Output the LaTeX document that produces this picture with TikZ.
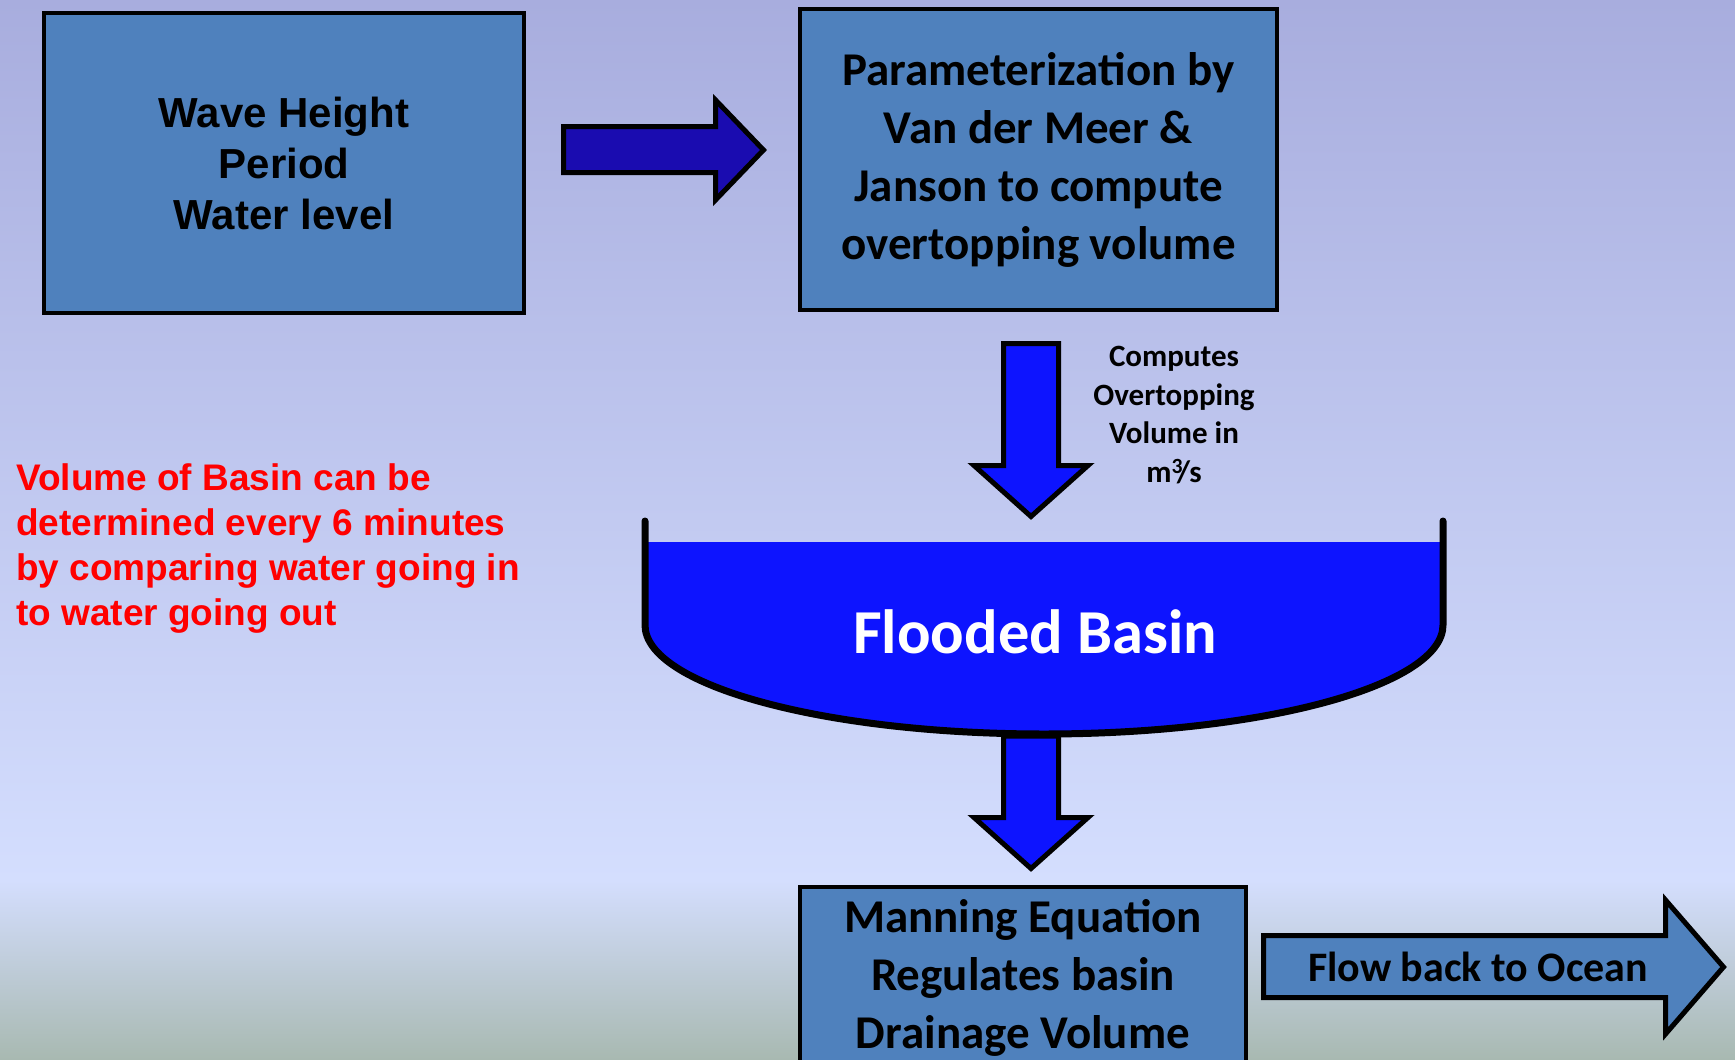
\documentclass[tikz,border=0pt]{standalone}
\usepackage{fontspec}
\newfontfamily\arialfont{Liberation Sans}
\newfontfamily\calfont{Carlito}
\usetikzlibrary{positioning}
\definecolor{bgtop}{HTML}{A8ADDE}
\definecolor{bghalf}{HTML}{C8D1F5}
\definecolor{bgmid}{HTML}{D4DEFE}
\definecolor{bgfoot}{HTML}{A8B9B1}
\definecolor{boxblue}{HTML}{4F81BD}
\definecolor{navyfill}{HTML}{1A0CB0}
\definecolor{waterblue}{HTML}{0D14FF}

\begin{document}
\begin{tikzpicture}[
  x=1pt,y=1pt,
  box/.style={draw=black,line width=4.5pt,fill=boxblue,align=center,inner sep=0pt},
  blockarrow/.style={draw=black,line width=5pt,line join=miter},
  wall/.style={draw=black,line width=7pt,line cap=round},
  arialtxt/.style={font=\arialfont\bfseries\fontsize{42}{51}\selectfont},
  caltxt/.style={font=\calfont\bfseries\fontsize{47}{58}\selectfont}
]

% slide background
\useasboundingbox (0,0) rectangle (1735,-1060);
\clip (0,0) rectangle (1735,-1060);
\shade[top color=bgtop,middle color=bghalf,bottom color=bgmid] (0,0) rectangle (1735,-881);
\shade[top color=bgmid,bottom color=bgfoot] (0,-880) rectangle (1735,-1060);

% the three boxes
\node[box,arialtxt,minimum width=480pt,minimum height=300pt] (inputs) at (284,-163)
  {Wave Height\\Period\\Water level};
\node[box,caltxt,minimum width=477pt,minimum height=301pt] (params) at (1038.5,-159.5)
  {Parameterization by\\Van der Meer \&\\Janson to compute\\overtopping volume};
\node[box,caltxt,minimum width=446pt,minimum height=182pt] (manning) at (1023,-978)
  {Manning Equation\\Regulates basin\\Drainage Volume};

% block arrows
\draw[blockarrow,fill=navyfill] (563.5,-126.5) -- (715.5,-126.5) -- (715.5,-100) -- (763.5,-150)
  -- (715.5,-200) -- (715.5,-172.5) -- (563.5,-172.5) -- cycle;
\draw[blockarrow,fill=waterblue] (1003.5,-343.5) -- (1058.5,-343.5) -- (1058.5,-465.5) -- (1088,-465.5)
  -- (1031,-516.5) -- (974,-465.5) -- (1003.5,-465.5) -- cycle;
\draw[blockarrow,fill=waterblue] (1003.5,-736) -- (1058.5,-736) -- (1058.5,-817.5) -- (1088,-817.5)
  -- (1031,-868.5) -- (974,-817.5) -- (1003.5,-817.5) -- cycle;
\draw[blockarrow,fill=boxblue] (1263.5,-935.5) -- (1665.5,-935.5) -- (1665.5,-900) -- (1723.5,-967)
  -- (1665.5,-1034) -- (1665.5,-997.5) -- (1263.5,-997.5) -- cycle;

% basin with water
\fill[waterblue] (645,-542) -- (645,-625) arc[start angle=180,end angle=360,x radius=399,y radius=109]
  -- (1443,-542) -- cycle;
\draw[wall] (645,-521) -- (645,-625) arc[start angle=180,end angle=360,x radius=399,y radius=109]
  -- (1443,-521);

% labels
\node[text=white,font=\calfont\bfseries\fontsize{62.5}{74}\selectfont] (basin) at (1035,-632) {Flooded Basin};
\node[align=center,font=\calfont\bfseries\fontsize{31}{38.5}\selectfont] (rate) at (1174,-415)
  {Computes\\Overtopping\\Volume in\\m\textsuperscript{3}\kern-.2em/s};
\node[font=\calfont\bfseries\fontsize{42}{50}\selectfont] (flow) at (1478,-967) {Flow back to Ocean};
\node[anchor=west,align=left,inner sep=0pt,text=red,font=\arialfont\bfseries\fontsize{37}{45}\selectfont] (note)
  at (16,-549) {Volume of Basin can be\\determined every 6 minutes\\by comparing water going in\\to water going out};
\end{tikzpicture}
\end{document}
